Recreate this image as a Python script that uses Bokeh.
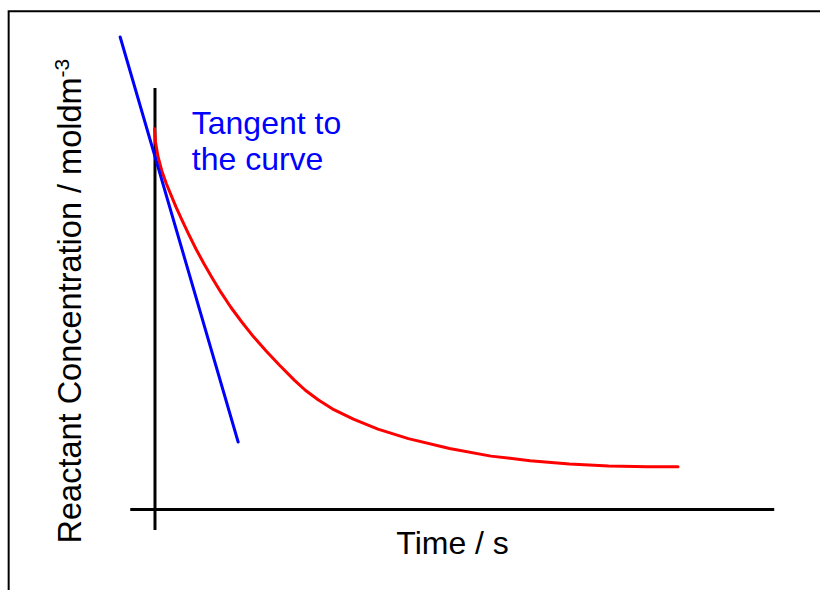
import numpy as np
from bokeh.plotting import figure
from bokeh.models import Range1d
from bokeh.core.properties import value
from bokeh.embed import file_html
from bokeh.resources import INLINE

# ---- data ----
# reactant concentration curve (time in s, concentration in mol dm-3)
time_s = [-0.09, 0.09, 0.56, 1.31, 2.16, 3.09, 4.03, 5.12, 6.43, 7.84, 9.34,
          10.94, 12.62, 14.50, 16.56, 18.81, 21.25, 23.87, 26.69, 28.75, 31.19,
          34.19, 37.94, 42.63, 48.44, 56.32, 64.23, 71.73, 79.24, 86.74, 94.24,
          100.0]
conc = [1.000, 0.966, 0.928, 0.889, 0.856, 0.825, 0.794, 0.761, 0.723, 0.684,
        0.646, 0.608, 0.570, 0.531, 0.493, 0.454, 0.416, 0.378, 0.339, 0.313,
        0.288, 0.262, 0.237, 0.211, 0.186, 0.160, 0.140, 0.128, 0.119, 0.114,
        0.112, 0.112]

# tangent to the curve (two end points)
tangent_t = [-6.66, 15.90]
tangent_c = [1.241, 0.177]

# axis line extents (data units)
vaxis_c = [-0.054, 1.107]
haxis_t = [-4.73, 118.4]

# labels
x_label = "Time / s"
y_label = "Reactant Concentration / moldm"
y_label_sup = "-3"
note_lines = ["Tangent to", "the curve"]

# ---- layout ----
FONT = "Liberation Sans"
p = figure(width=820, height=590, output_backend="svg", toolbar_location=None,
           x_range=Range1d(-29.54, 127.25), y_range=Range1d(-0.2130, 1.3368),
           min_border=0, outline_line_color=None)
p.axis.visible = False
p.grid.visible = False
p.background_fill_color = "white"
p.border_fill_color = "white"

# picture frame (top and left edges only, as an L)
p.line([131.0, -27.98, -27.98], [1.3087, 1.3087, -0.26], line_color="black",
       line_width=2, line_join="miter")

# axes
p.line([0, 0], vaxis_c, line_color="black", line_width=3)
p.line(haxis_t, [0, 0], line_color="black", line_width=3)

# curve and tangent
p.line(time_s, conc, line_color="#ff0000", line_width=3, line_join="round", line_cap="round")
p.line(tangent_t, tangent_c, line_color="#0000ff", line_width=3, line_cap="round")

# note
p.text(x=[7.03, 7.03], y=[1.0146, 0.9200], text=note_lines, text_color="#0000ff",
       text_font=value(FONT), text_font_size="32px", text_align="left",
       text_baseline="alphabetic")

# axis labels
p.text(x=[56.9], y=[-0.088], text=[x_label], text_color="black",
       text_font=value(FONT), text_font_size="32px", text_align="center",
       text_baseline="alphabetic")
p.text(x=[-16.22], y=[1.1348], text=[y_label], angle=np.pi / 2, text_color="black",
       text_font=value(FONT), text_font_size="32.5px", text_align="right",
       text_baseline="alphabetic")
p.text(x=[-17.72], y=[1.1348], text=[y_label_sup], angle=np.pi / 2, text_color="black",
       text_font=value(FONT), text_font_size="21px", text_align="left",
       text_baseline="alphabetic")

open("out.html", "w").write(file_html(p, INLINE))
